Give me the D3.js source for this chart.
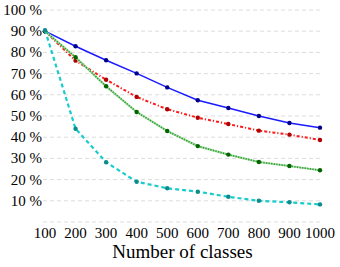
<!DOCTYPE html>
<html>
<head>
<meta charset="utf-8">
<script src="https://cdn.jsdelivr.net/npm/d3@7"></script>
</head>
<body style="margin:0">
<div id="chart"></div>
<script>
// data
const classes = [100, 200, 300, 400, 500, 600, 700, 800, 900, 1000]
const blueVals = [90, 82.9, 76.3, 70.1, 63.5, 57.4, 53.8, 50.0, 46.7, 44.5]
const redVals = [90, 76.1, 67.1, 59.0, 53.2, 49.2, 46.2, 43.1, 41.2, 38.7]
const greenVals = [90, 77.7, 64.0, 51.9, 42.9, 35.8, 31.8, 28.3, 26.4, 24.4]
const cyanVals = [90.5, 44.0, 28.2, 19.0, 15.9, 14.3, 11.9, 10.0, 9.3, 8.3]
const yTicks = [0, 10, 20, 30, 40, 50, 60, 70, 80, 90, 100]
const xLabel = 'Number of classes'

const width = 340, height = 267
const margin = { top: 10, right: 20, bottom: 45, left: 45 }

const svg = d3.select('#chart').append('svg')
	.attr('width', width)
	.attr('height', height)
	.attr('font-family', 'Times New Roman')
	.style('font-family', "'Times New Roman'")

const x = d3.scaleLinear().domain([100, 1000]).range([margin.left, width - margin.right])
const y = d3.scaleLinear().domain([0, 100]).range([height - margin.bottom, margin.top])

// grid
svg.append('g').selectAll('line')
	.data(yTicks)
	.enter().append('line')
	.attr('x1', x(100) - 2)
	.attr('x2', x(1000) + 2)
	.attr('y1', d => y(d))
	.attr('y2', d => y(d))
	.attr('stroke', '#dcdcdc')
	.attr('stroke-width', 1)
	.attr('stroke-dasharray', '4,3')

// y tick labels
svg.selectAll('text.ytick')
	.data(yTicks.filter(d => d > 0))
	.enter().append('text')
	.attr('class', 'ytick')
	.attr('x', 42)
	.attr('y', d => y(d) + 5)
	.attr('text-anchor', 'end')
	.attr('font-size', 15)
	.style('font-family', "'Times New Roman'")
	.text(d => d + ' %')

// x tick labels
svg.selectAll('text.xtick')
	.data(classes)
	.enter().append('text')
	.attr('class', 'xtick')
	.attr('x', d => x(d))
	.attr('y', 238)
	.attr('text-anchor', 'middle')
	.attr('font-size', 15)
	.style('font-family', "'Times New Roman'")
	.text(d => d)

svg.append('text')
	.attr('x', (x(100) + x(1000)) / 2)
	.attr('y', 258)
	.attr('text-anchor', 'middle')
	.attr('font-size', 19)
	.style('font-family', "'Times New Roman'")
	.text(xLabel)

const line = d3.line().x((d, i) => x(classes[i])).y(d => y(d))

const series = [
	{ vals: blueVals, color: '#1a1aff', dot: '#00008b', width: 1.5, dash: null },
	{ vals: redVals, color: '#ff1a1a', dot: '#b00000', width: 2, dash: '3,2,1.2,2' },
	{ vals: greenVals, color: '#2e9e2e', dot: '#006400', width: 1.6, dash: '1.3,1.3', under: '#a8dca8' },
	{ vals: cyanVals, color: '#18cccc', dot: '#0a8c8c', width: 2.2, dash: '4,3' }
]

series.forEach(s => {
	if (s.under) {
		svg.append('path')
			.attr('d', line(s.vals))
			.attr('fill', 'none')
			.attr('stroke', s.under)
			.attr('stroke-width', 2.2)
	}
	svg.append('path')
		.attr('d', line(s.vals))
		.attr('fill', 'none')
		.attr('stroke', s.color)
		.attr('stroke-width', s.width)
		.attr('stroke-dasharray', s.dash)
	svg.append('g').selectAll('circle')
		.data(s.vals)
		.enter().append('circle')
		.attr('cx', (d, i) => x(classes[i]))
		.attr('cy', d => y(d))
		.attr('r', 2.2)
		.attr('fill', s.dot)
})
</script>
</body>
</html>
